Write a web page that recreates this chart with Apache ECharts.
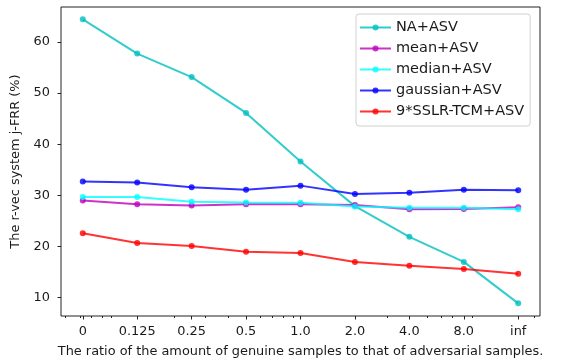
<!DOCTYPE html>
<html>
<head>
<meta charset="utf-8">
<script src="https://cdn.jsdelivr.net/npm/echarts@6/dist/echarts.min.js"></script>
<style>html,body{margin:0;padding:0;background:#fff;}#c{width:566px;height:364px;}</style>
</head>
<body>
<div id="c"></div>
<script>
const xLabels = ['0', '0.125', '0.25', '0.5', '1.0', '2.0', '4.0', '8.0', 'inf'];
const yTicks = [10, 20, 30, 40, 50, 60];
const xMinorTicks = [-0.323, -0.042, 0.147, 0.367, 0.532, 1.676, 2.255, 2.671, 3.252, 3.483, 3.685, 3.863, 5.586, 6.325, 6.581, 6.796, 7.163, 8.294];
const seriesNames = ['NA+ASV', 'mean+ASV', 'median+ASV', 'gaussian+ASV', '9*SSLR-TCM+ASV'];
const naASV = [64.4, 57.7, 53.1, 46.1, 36.6, 27.9, 21.9, 17.0, 8.9];
const meanASV = [29.0, 28.25, 28.0, 28.25, 28.25, 28.1, 27.3, 27.35, 27.7];
const medianASV = [29.7, 29.7, 28.75, 28.6, 28.55, 27.8, 27.6, 27.6, 27.3];
const gaussianASV = [32.7, 32.5, 31.6, 31.1, 31.9, 30.25, 30.5, 31.1, 31.0];
const sslrASV = [22.6, 20.7, 20.1, 19.0, 18.75, 17.0, 16.25, 15.6, 14.7];
const colors = ['rgba(0,191,191,0.8)', 'rgba(191,0,191,0.8)', 'rgba(0,255,255,0.8)', 'rgba(0,0,255,0.8)', 'rgba(255,0,0,0.8)'];
const allData = [naASV, meanASV, medianASV, gaussianASV, sslrASV];

const font = 'DejaVu Sans';
const txt = '#1a1a1a';
const axFont = 12.9;
const chart = echarts.init(document.getElementById('c'), null, {renderer: 'canvas'});
const xIdx = xLabels.map((_, i) => i);
chart.setOption({
  animation: false,
  backgroundColor: '#fff',
  textStyle: {fontFamily: font},
  grid: {left: 61, right: 26, top: 7, bottom: 48, show: true, borderColor: '#222', borderWidth: 1, outerBoundsMode: 'none', containLabel: false},
  legend: {
    orient: 'vertical', left: 356, top: 14,
    padding: [6, 6, 7, 3],
    itemWidth: 31, itemHeight: 7.5, itemGap: 6, itemTextGap: 10,
    backgroundColor: 'rgba(255,255,255,0.8)', borderColor: '#d0d0d0', borderWidth: 1, borderRadius: 3,
    textStyle: {fontFamily: font, fontSize: 14.5, color: txt},
    data: seriesNames
  },
  xAxis: [{
    type: 'value', min: -0.4, max: 8.4,
    name: 'The ratio of the amount of genuine samples to that of adversarial samples.',
    nameLocation: 'middle', nameGap: 29,
    nameTextStyle: {fontFamily: font, fontSize: axFont, color: txt},
    axisLine: {show: false, onZero: false},
    splitLine: {show: false},
    axisTick: {show: true, length: 3.5, lineStyle: {color: '#222'}, customValues: xIdx},
    axisLabel: {customValues: xIdx, margin: 9, fontFamily: font, fontSize: axFont, color: txt, formatter: v => xLabels[Math.round(v)]}
  }, {
    type: 'value', min: -0.4, max: 8.4, position: 'bottom',
    axisLine: {show: false, onZero: false}, splitLine: {show: false},
    axisTick: {show: true, length: 2, lineStyle: {color: '#222'}, customValues: xMinorTicks},
    axisLabel: {show: false}
  }],
  yAxis: {
    type: 'value', min: 6.43, max: 66.8,
    name: 'The r-vec system j-FRR (%)',
    nameLocation: 'middle', nameGap: 39, nameRotate: 90,
    nameTextStyle: {fontFamily: font, fontSize: axFont, color: txt},
    axisLine: {show: false, onZero: false},
    splitLine: {show: false},
    axisTick: {show: true, length: 3.5, lineStyle: {color: '#222'}, customValues: yTicks},
    axisLabel: {customValues: yTicks, margin: 11, fontFamily: font, fontSize: axFont, color: txt}
  },
  series: seriesNames.map((n, k) => ({
    name: n, type: 'line', xAxisIndex: 0,
    data: allData[k].map((v, i) => [i, v]),
    symbol: 'circle', symbolSize: 6, showSymbol: true,
    lineStyle: {color: colors[k], width: 2},
    itemStyle: {color: colors[k]},
    emphasis: {disabled: true}
  }))
});
</script>
</body>
</html>
